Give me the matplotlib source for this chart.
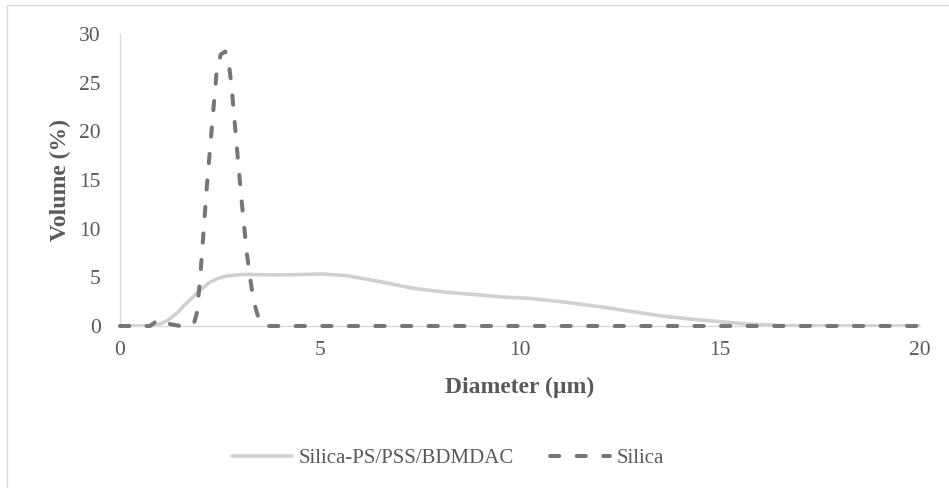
import matplotlib
matplotlib.use("Agg")
import matplotlib.pyplot as plt
from matplotlib.patches import Rectangle

# Data
ps_x = [0, 0.5, 0.8, 1.0, 1.2, 1.42, 1.6, 1.83, 2.05, 2.25, 2.45, 2.67, 3.08, 4.0,
        5.08, 5.67, 6.5, 7.33, 8.17, 9.0, 9.5, 10.25, 11.17, 12.0, 12.83, 13.67,
        14.5, 15.33, 15.67, 16.5, 17.5, 18.5, 20]
ps_y = [0, 0, 0.05, 0.2, 0.6, 1.3, 2.1, 3.0, 3.85, 4.5, 4.9, 5.14, 5.3, 5.25,
        5.34, 5.17, 4.56, 3.87, 3.46, 3.19, 3.0, 2.84, 2.43, 1.98, 1.47, 0.96,
        0.62, 0.33, 0.2, 0.05, 0.01, 0, 0]

si_x = [0, 0.5, 0.75, 0.88, 1.0, 1.12, 1.25, 1.5, 1.75, 1.85, 1.92, 2.0, 2.08,
        2.17, 2.29, 2.42, 2.52, 2.63, 2.72, 2.79, 2.92, 3.04, 3.17, 3.33, 3.5,
        3.7, 4, 5, 10, 15, 20]
si_y = [0, 0, 0, 0.4, 0.7, 0.5, 0.2, 0, 0, 0.3, 1.3, 4.7, 9.2, 14.3, 20.1, 26.3,
        27.9, 28.2, 27.0, 24.6, 18.4, 12.9, 7.5, 2.7, 0.3, 0, 0, 0, 0, 0, 0]

x_ticks = [0, 5, 10, 15, 20]
y_ticks = [0, 5, 10, 15, 20, 25, 30]
series_labels = ["Silica-PS/PSS/BDMDAC", "Silica"]

plt.rcParams['font.family'] = ['Liberation Serif', 'DejaVu Serif']

W, H = 949, 488
fig = plt.figure(figsize=(W / 100, H / 100), dpi=100)

# outer chart-area border (only top and left visible in the reference)
fig.patches.append(Rectangle((7 / W, -0.1), 2.0, (H - 5) / H + 0.1,
                             transform=fig.transFigure, fill=False,
                             edgecolor='#d9d9d9', linewidth=1.0))

ax = fig.add_axes([120 / W, (H - 326) / H, 800 / W, 292 / H])
ax.set_xlim(0, 20)
ax.set_ylim(0, 30)

ax.plot(ps_x, ps_y, color='#d0d0d0', linewidth=2.6, solid_capstyle='round',
        solid_joinstyle='round', label=series_labels[0], zorder=3)
ax.plot(si_x, si_y, color='#767676', linewidth=2.9, dashes=(2.3, 4.3),
        dash_capstyle='round', dash_joinstyle='round', label=series_labels[1],
        zorder=4, clip_on=False)

for s in ['top', 'right']:
    ax.spines[s].set_visible(False)
for s in ['left', 'bottom']:
    ax.spines[s].set_color('#d9d9d9')
    ax.spines[s].set_linewidth(1.0)
    ax.spines[s].set_zorder(1)

ax.set_xticks(x_ticks)
ax.set_yticks(y_ticks)
ax.tick_params(axis='both', length=0, labelsize=15.5, labelcolor='#595959')
ax.tick_params(axis='y', pad=14)
ax.tick_params(axis='x', pad=11)

ax.set_xlabel('Diameter (µm)', fontsize=17, fontweight='bold', color='#595959',
              labelpad=12)
ax.set_ylabel('Volume (%)', fontsize=17, fontweight='bold', color='#595959',
              labelpad=6)

leg = fig.legend(loc='center', bbox_to_anchor=(448 / W, (H - 458) / H),
                 ncol=2, frameon=False, fontsize=15, handlelength=2.9,
                 handletextpad=0.33, columnspacing=1.7)
for t in leg.get_texts():
    t.set_color('#595959')

fig.savefig('out.png', dpi=100)
